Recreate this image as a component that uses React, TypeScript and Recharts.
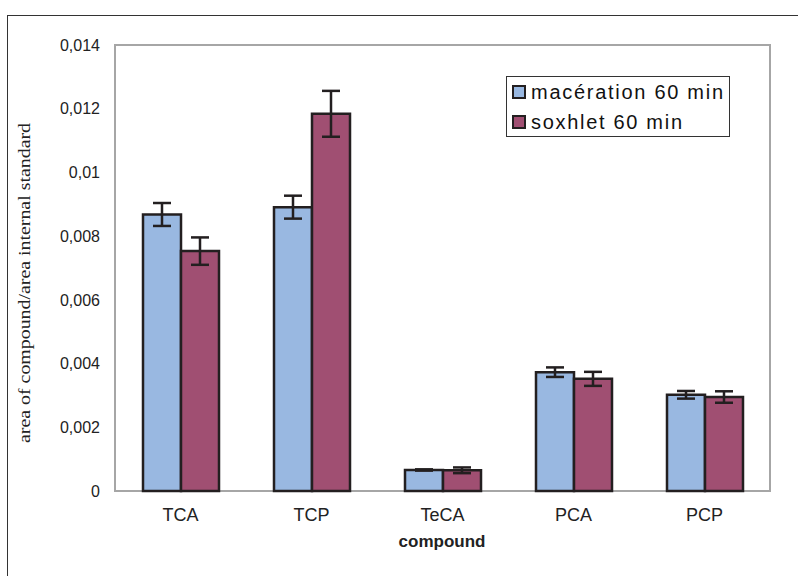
import { BarChart, Bar, XAxis, YAxis, ErrorBar, ReferenceArea, Legend } from "recharts";

const compounds = ["TCA", "TCP", "TeCA", "PCA", "PCP"];
const maceration = [0.00868, 0.00891, 0.00066, 0.00373, 0.00302];
const macerationErr = [0.00036, 0.00036, 0.00002, 0.00015, 0.00012];
const soxhlet = [0.00753, 0.01184, 0.00065, 0.00352, 0.00295];
const soxhletErr = [0.00043, 0.00072, 0.00009, 0.00022, 0.00018];
const yTicks = [0, 0.002, 0.004, 0.006, 0.008, 0.01, 0.012, 0.014];

const BLUE = "#99b8e1";
const MAROON = "#a04f72";
const EDGE = "#231f20";

const data = compounds.map((name, i) => ({
  name,
  mac: maceration[i],
  macErr: macerationErr[i],
  sox: soxhlet[i],
  soxErr: soxhletErr[i],
}));

const legendItems = [
  { label: "macération 60 min", color: BLUE, len: 192 },
  { label: "soxhlet 60 min", color: MAROON, len: 151 },
];

function LegendBox() {
  return (
    <svg width={224} height={61} style={{ display: "block" }}>
      <rect x={0.5} y={0.5} width={223} height={60} fill="#fff" stroke="#333" strokeWidth={1} />
      {legendItems.map((it, i) => (
        <g key={it.label}>
          <rect x={7} y={10 + i * 30} width={12} height={12} fill={it.color} stroke={EDGE} strokeWidth={2} />
          <text
            x={25}
            y={23 + i * 30}
            fontSize={20}
            fontFamily="Liberation Sans, Arial, sans-serif"
            fill="#111"
            textLength={it.len}
            lengthAdjust="spacing"
          >
            {it.label}
          </text>
        </g>
      ))}
    </svg>
  );
}

export default function App() {
  return (
    <div style={{ position: "absolute", left: 0, top: 0, width: 798, height: 576, background: "#fff", overflow: "hidden" }}>
      <div
        style={{
          position: "absolute",
          left: 7,
          top: 15,
          width: 900,
          height: 700,
          borderLeft: "1px solid #333",
          borderTop: "1px solid #333",
        }}
      />
      <BarChart
        width={798}
        height={576}
        data={data}
        margin={{ top: 45, right: 28, bottom: 55, left: 55 }}
        barSize={38}
        barGap={0}
        style={{ position: "absolute", left: 0, top: 0 }}
      >
        <ReferenceArea y1={0} y2={0.014} stroke="#a6a6a6" strokeWidth={2} fill="none" fillOpacity={0} />
        <XAxis
          dataKey="name"
          height={30}
          axisLine={false}
          tickLine={false}
          tickSize={6}
          tickMargin={11}
          tick={{ fontSize: 18, fill: "#222", fontFamily: "Liberation Sans, Arial, sans-serif" }}
          label={{
            content: () => (
              <text
                x={442}
                y={547}
                textAnchor="middle"
                fontSize={17}
                fontWeight="bold"
                fontFamily="Liberation Sans, Arial, sans-serif"
                fill="#222"
              >
                compound
              </text>
            ),
          }}
        />
        <YAxis
          width={60}
          domain={[0, 0.014]}
          ticks={yTicks}
          axisLine={false}
          tickLine={false}
          tickSize={6}
          tickMargin={9}
          tickFormatter={(v: number) => String(v).replace(".", ",")}
          tick={{ fontSize: 16, fill: "#222", fontFamily: "Liberation Sans, Arial, sans-serif" }}
          label={{
            content: () => (
              <text
                transform="translate(30,283) rotate(-90)"
                textAnchor="middle"
                fontSize={16}
                fontFamily="Liberation Serif, Times New Roman, serif"
                fill="#222"
                textLength={320}
                lengthAdjust="spacingAndGlyphs"
              >
                area of compound/area internal standard
              </text>
            ),
          }}
        />
        <Legend
          layout="horizontal"
          verticalAlign="middle"
          align="center"
          content={() => <LegendBox />}
          wrapperStyle={{ position: "absolute", left: 506, top: 76, width: 224, height: 61 }}
        />
        <Bar dataKey="mac" name="macération 60 min" fill={BLUE} stroke={EDGE} strokeWidth={2.5} isAnimationActive={false}>
          <ErrorBar dataKey="macErr" width={9} stroke={EDGE} strokeWidth={2.5} isAnimationActive={false} />
        </Bar>
        <Bar dataKey="sox" name="soxhlet 60 min" fill={MAROON} stroke={EDGE} strokeWidth={2.5} isAnimationActive={false}>
          <ErrorBar dataKey="soxErr" width={9} stroke={EDGE} strokeWidth={2.5} isAnimationActive={false} />
        </Bar>
      </BarChart>
    </div>
  );
}
